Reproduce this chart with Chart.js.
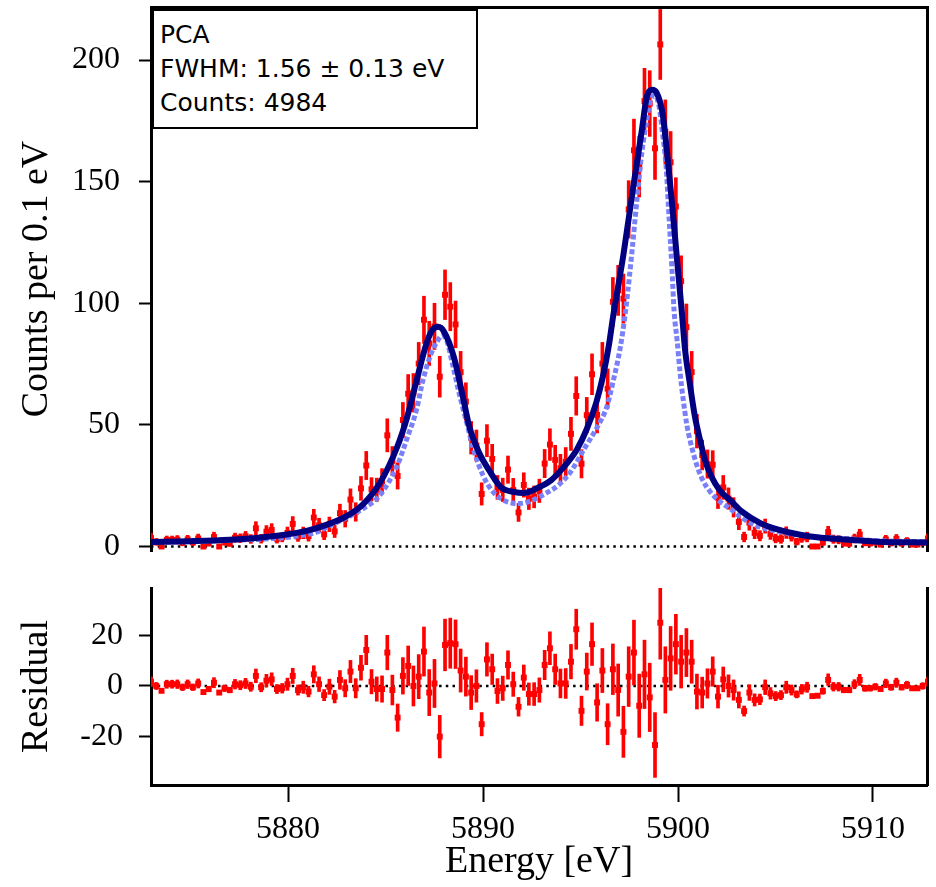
<!DOCTYPE html>
<html>
<head>
<meta charset="utf-8">
<title>Mn K-alpha spectrum, PCA</title>
<script src="https://cdn.jsdelivr.net/npm/chart.js@4.4.1/dist/chart.umd.min.js"></script>
<style>
  html, body { margin: 0; padding: 0; background: #fff; }
  #wrap { position: relative; width: 936px; height: 887px; overflow: hidden; }
  #specChart  { position: absolute; left: 0; top: 0; }
  #residChart { position: absolute; left: 0; top: 560px; }
  .fit-box {
    position: absolute; left: 152px; top: 9px;
    width: 316px; height: 109px;
    padding: 7px 0 0 6px;
    border: 2px solid #000; background: #fff;
    font-family: 'DejaVu Sans', Verdana, sans-serif;
    font-size: 25px; line-height: 34px; color: #000;
    white-space: nowrap;
  }
</style>
</head>
<body>
<div id="wrap">
  <canvas id="specChart" width="936" height="560"></canvas>
  <canvas id="residChart" width="936" height="327"></canvas>
  <div class="fit-box">
    <div>PCA</div>
    <div>FWHM: 1.56 ± 0.13 eV</div>
    <div>Counts: 4984</div>
  </div>
</div>

<script>
/* ================================================
   DATA
================================================ */
// bin centres, eV
const energy = [
  5872.97, 5873.24, 5873.51, 5873.78, 5874.05, 5874.32, 5874.59, 5874.85, 5875.12, 5875.39,
  5875.66, 5875.93, 5876.20, 5876.47, 5876.74, 5877.01, 5877.28, 5877.55, 5877.82, 5878.09,
  5878.35, 5878.62, 5878.89, 5879.16, 5879.43, 5879.70, 5879.97, 5880.24, 5880.51, 5880.78,
  5881.05, 5881.32, 5881.59, 5881.85, 5882.12, 5882.39, 5882.66, 5882.93, 5883.20, 5883.47,
  5883.74, 5884.01, 5884.28, 5884.55, 5884.82, 5885.09, 5885.35, 5885.62, 5885.89, 5886.16,
  5886.43, 5886.70, 5886.97, 5887.24, 5887.51, 5887.78, 5888.05, 5888.32, 5888.59, 5888.85,
  5889.12, 5889.39, 5889.66, 5889.93, 5890.20, 5890.47, 5890.74, 5891.01, 5891.28, 5891.55,
  5891.82, 5892.09, 5892.35, 5892.62, 5892.89, 5893.16, 5893.43, 5893.70, 5893.97, 5894.24,
  5894.51, 5894.78, 5895.05, 5895.32, 5895.59, 5895.85, 5896.12, 5896.39, 5896.66, 5896.93,
  5897.20, 5897.47, 5897.74, 5898.01, 5898.28, 5898.55, 5898.82, 5899.09, 5899.35, 5899.62,
  5899.89, 5900.16, 5900.43, 5900.70, 5900.97, 5901.24, 5901.51, 5901.78, 5902.05, 5902.32,
  5902.59, 5902.85, 5903.12, 5903.39, 5903.66, 5903.93, 5904.20, 5904.47, 5904.74, 5905.01,
  5905.28, 5905.55, 5905.82, 5906.09, 5906.35, 5906.62, 5906.89, 5907.16, 5907.43, 5907.70,
  5907.97, 5908.24, 5908.51, 5908.78, 5909.05, 5909.32, 5909.59, 5909.85, 5910.12, 5910.39,
  5910.66, 5910.93, 5911.20, 5911.47, 5911.74, 5912.01, 5912.28, 5912.55, 5912.82,
];

// counts per 0.1 eV in each bin
const counts = [
  3.5, 1.9, 0, 2.7, 2.7, 2.8, 1.6, 2.9, 1.7, 3.3,
  0, 1.3, 3.9, 0, 1.8, 1.2, 3.6, 3.4, 4.2, 3.1,
  7.5, 3.2, 6.1, 6.8, 3.2, 3.8, 5.6, 9.3, 4.1, 5.6,
  4.3, 11.9, 8.7, 5.0, 9.1, 6.2, 13.7, 11.4, 19.3, 14.2,
  23.9, 33.3, 23.5, 23.3, 26.8, 45.7, 35.2, 29.0, 52, 62.8,
  63.2, 75.2, 93.2, 83.5, 90.5, 69.8, 103.5, 98.6, 91.3, 71.7,
  59.6, 44.7, 41.5, 21.6, 43.5, 36, 24.3, 23.3, 31.6, 23.2,
  14, 25.3, 19.6, 20.4, 22.9, 34.1, 41.9, 35.6, 32.2, 34.8,
  46.3, 61.9, 34, 54, 70.8, 54.1, 75.2, 64.9, 100.6, 105.3,
  101.9, 138.6, 162.9, 156.2, 183.1, 182.1, 163.7, 206.4, 170.5, 158,
  139.8, 109.1, 90.2, 71.7, 47.4, 37.6, 33.9, 33.6, 20.1, 24.3,
  19.7, 16.1, 10.1, 3.9, 9.8, 5.6, 4.4, 8.4, 5.2, 3.3,
  3.1, 5.7, 4.2, 2.0, 3.6, 3.9, 0, 0, 1.7, 5.9,
  3.0, 2.8, 1.3, 1.15, 3.3, 4.9, 1.45, 1.3, 1.75, 0.8,
  2.9, 1.4, 3.15, 1.3, 2.2, 0.8, 0.8, 1.65, 3.3,
];

// one-sigma error on each bin
const countErr = [
  1.9, 1.4, 0, 1.6, 1.6, 1.7, 1.3, 1.7, 1.3, 1.8,
  0, 1.1, 2.0, 0, 1.3, 1.1, 1.9, 1.8, 2.0, 1.8,
  2.7, 1.8, 2.5, 2.6, 1.8, 1.9, 2.4, 3.0, 2.0, 2.4,
  2.1, 3.4, 2.9, 2.2, 3.0, 2.5, 3.7, 3.4, 4.4, 3.8,
  4.9, 5.8, 4.8, 4.8, 5.2, 6.8, 5.9, 5.4, 7.2, 7.9,
  7.9, 8.7, 9.7, 9.1, 9.5, 8.4, 10.2, 9.9, 9.6, 8.5,
  7.7, 6.7, 6.4, 4.6, 6.6, 6.0, 4.9, 4.8, 5.6, 4.8,
  3.7, 5.0, 4.4, 4.5, 4.8, 5.8, 6.5, 6.0, 5.7, 5.9,
  6.8, 7.9, 5.8, 7.3, 8.4, 7.4, 8.7, 8.1, 10.0, 10.3,
  10.1, 11.8, 12.8, 12.5, 13.5, 13.5, 12.8, 14.4, 13.1, 12.6,
  11.8, 10.4, 9.5, 8.5, 6.9, 6.1, 5.8, 5.8, 4.5, 4.9,
  4.4, 4.0, 3.2, 2.0, 3.1, 2.4, 2.1, 2.9, 2.3, 1.8,
  1.8, 2.4, 2.0, 1.4, 1.9, 2.0, 0, 0, 1.3, 2.4,
  1.7, 1.7, 1.1, 1.1, 1.8, 2.2, 1.2, 1.1, 1.3, 0.9,
  1.7, 1.2, 1.8, 1.1, 1.5, 0.9, 0.9, 1.3, 1.8,
];

// data minus PCA fit
const resid = [
  1.7, 0, -1.9, 0.7, 0.7, 0.7, -0.5, 0.7, -0.5, 1.0,
  -2.4, -1.2, 1.3, -2.6, -0.9, -1.6, 0.7, 0.3, 1.0, -0.3,
  4.0, -0.5, 2.1, 2.6, -1.2, -0.9, 0.7, 4.0, -1.6, -0.5,
  -2.2, 4.6, 0.7, -3.6, -0.3, -4.2, 2.4, -0.9, 5.7, -0.9,
  7.2, 14.2, 1.7, -1.2, -1.2, 13.2, -1.6, -12.5, 4.0, 7.9,
  0, 3.7, 13.6, -2.6, 1.0, -20, 16.2, 16.9, 16.5, 6.1,
  3.7, -2.6, 0, -15.1, 10.5, 6.6, -2, -0.9, 8.3, 0.7,
  -8.2, 3.3, -3.2, -3.2, -1.6, 8.3, 14.9, 6.6, 1.0, 1.0,
  9.6, 22.4, -9.8, 5.7, 16.5, -6.5, 6.1, -15.1, 6.6, -1.6,
  -18.1, 3.7, 13.2, -7.8, 4.6, -4.5, -23.3, 25, 2.4, 10.9,
  16.5, 9.6, 13.2, 9.6, -2.2, -2.6, 1.0, 5.7, -4.2, 2.6,
  0, -1.6, -5.5, -9.9, -2.6, -5.5, -5.3, -0.5, -2.9, -4.0,
  -3.6, -0.5, -1.6, -3.3, -1.3, -0.5, -4.0, -3.85, -2.0, 2.4,
  -0.3, -0.3, -1.6, -1.6, 0.7, 2.4, -0.9, -0.9, -0.3, -1.2,
  1.0, -0.5, 1.3, -0.5, 0.4, -0.9, -0.9, 0, 1.7,
];

// PCA fit curve (solid)
const fitE = [
  5872.97, 5875.0, 5877.0, 5878.5, 5880.0, 5881.0, 5882.0, 5883.0, 5883.8, 5884.7,
  5885.6, 5886.1, 5886.6, 5887.1, 5887.4, 5887.7, 5888.0, 5888.5, 5889.0, 5889.3,
  5889.8, 5890.4, 5890.9, 5891.6, 5892.1, 5892.8, 5893.5, 5894.1, 5894.8, 5895.3,
  5895.8, 5896.15, 5896.45, 5896.67, 5897.2, 5897.7, 5898.15, 5898.4, 5898.67, 5898.9,
  5899.2, 5899.44, 5899.69, 5899.95, 5900.2, 5900.36, 5900.6, 5900.87, 5901.13, 5901.38,
  5901.7, 5902.15, 5902.67, 5903.3, 5904.2, 5905.1, 5906.8, 5908.5, 5910.2, 5912.77,
];
const fitPCA = [
  1.8, 2.2, 2.8, 3.6, 5.0, 6.5, 9.0, 12.5, 17, 26,
  41, 53, 68.5, 83.5, 89, 90.3, 88.3, 78, 60.3, 49.2,
  38.5, 30.2, 24.5, 22.4, 22, 24.1, 27.3, 32.3, 39.7, 47.9,
  59, 70, 82.5, 94.5, 120, 147.6, 171.4, 185, 187.8, 186.6,
  178.4, 161.9, 141.3, 117.9, 96, 81, 67.3, 53.3, 43.8, 35.6,
  29, 23, 19.1, 14.2, 9.7, 7.0, 4.1, 2.9, 2.0, 1.6,
];

// reference line shape (dotted)
const shapeE = [
  5872.97, 5875.0, 5877.0, 5879.0, 5880.5, 5881.5, 5882.15, 5883.0, 5883.85, 5884.7,
  5885.6, 5886.1, 5886.6, 5886.9, 5887.3, 5887.65, 5887.9, 5888.15, 5888.45, 5888.8,
  5889.2, 5889.5, 5890.0, 5890.5, 5891.2, 5891.85, 5892.5, 5893.2, 5893.85, 5894.5,
  5895.2, 5895.85, 5896.35, 5896.67, 5897.03, 5897.28, 5897.4, 5897.64, 5897.9, 5898.15,
  5898.41, 5898.56, 5898.8, 5899.02, 5899.18, 5899.4, 5899.5, 5899.6, 5899.7, 5899.8,
  5899.95, 5900.1, 5900.26, 5900.46, 5900.72, 5900.97, 5901.23, 5901.64, 5902.15, 5902.67,
  5903.2, 5904.0, 5905.2, 5906.8, 5908.5, 5910.2, 5912.77,
];
const shapeVals = [
  1.8, 2.0, 2.5, 3.2, 4.3, 6.0, 8.6, 11.8, 15.6, 21.0,
  33.3, 44.4, 56.6, 67.8, 78.5, 84.3, 86.7, 84.3, 74.4, 62.1,
  49.7, 40.3, 29.2, 22.6, 18.5, 17.7, 18.9, 21.8, 25.1, 30.8,
  40.3, 49, 57.5, 67.8, 81.4, 94.9, 103, 121.3, 143.1, 162.3,
  175.9, 182.7, 185.5, 181.3, 171.6, 155, 141, 127, 112.4, 96.6,
  85, 71.9, 60.8, 49.7, 40.3, 33.3, 27.9, 22.6, 18.5, 15.6,
  12.3, 8.6, 6.1, 4.1, 3.3, 2.4, 2.0,
];

const countTicks  = [0, 50, 100, 150, 200];
const residTicks  = [-20, 0, 20];
const energyTicks = [5880, 5890, 5900, 5910];

const E_MIN = 5872.97;
const E_MAX = 5912.77;

/* ================================================
   HELPERS
================================================ */
const SERIF   = "'Liberation Serif', 'Times New Roman', serif";
const RED     = '#ff0000';
const NAVY    = '#000080';
const LILAC   = 'rgb(122,128,248)';
const LEFT_W  = 151;
const RIGHT_W = 9;

const xy      = (xs, ys) => xs.map((x, i) => ({ x, y: ys[i] }));
const errBars = (xs, ys, es) => xs.map((x, i) => ({ x, y: [ys[i] - es[i], ys[i] + es[i]] }));

// fixed axis size, and no extra room reserved for half tick labels
function pinSize(s, size) {
  if (s.isHorizontal()) s.height = size; else s.width = size;
  s.paddingTop = s.paddingBottom = s.paddingLeft = s.paddingRight = 0;
}

function zeroLine() {
  return {
    type: 'line',
    data: [{ x: E_MIN, y: 0 }, { x: E_MAX, y: 0 }],
    borderColor: '#000',
    borderWidth: 2.5,
    borderDash: [2.5, 4.2],
    pointRadius: 0,
    order: 6,
  };
}

function errorSet(values) {
  return {
    type: 'bar',
    data: errBars(energy, values, countErr),
    backgroundColor: RED,
    borderWidth: 0,
    barThickness: 3,
    grouped: false,
    order: 5,
  };
}

function pointSet(values) {
  return {
    type: 'line',
    data: xy(energy, values),
    showLine: false,
    pointStyle: 'rect',
    pointRadius: 4.2,
    pointBackgroundColor: RED,
    pointBorderWidth: 0,
    order: 4,
  };
}

function energyAxis(extra) {
  return {
    type: 'linear',
    min: E_MIN, max: E_MAX,
    offset: false,
    ...extra,
  };
}

function valueAxis(min, max, tickList, title, labelPad) {
  return {
    type: 'linear',
    position: 'left',
    min, max,
    afterFit: s => pinSize(s, LEFT_W),
    afterBuildTicks: s => { s.ticks = tickList.map(v => ({ value: v })); },
    grid: { drawOnChartArea: false, drawTicks: true, tickLength: 12, tickWidth: 2, tickColor: '#000' },
    border: { display: true, color: '#000', width: 3 },
    ticks: { color: '#000', padding: labelPad, font: { family: SERIF, size: 32 } },
    title: {
      display: true, text: title, color: '#000',
      padding: { top: 14, bottom: 0 },
      font: { family: SERIF, size: 38, weight: 'normal' },
    },
  };
}

// plain frame line (no ticks) on one side of the plot
function frameAxis(position, size) {
  return {
    type: 'linear',
    position,
    display: true,
    min: 0, max: 1,
    afterFit: s => pinSize(s, size),
    grid: { display: false, drawTicks: false },
    ticks: { display: false },
    border: { display: true, color: '#000', width: 3 },
  };
}

const baseOptions = {
  responsive: false,
  animation: false,
  events: [],
  plugins: { legend: { display: false }, tooltip: { enabled: false } },
};

/* ================================================
   SPECTRUM PANEL
================================================ */
new Chart(document.getElementById('specChart'), {
  type: 'line',
  data: {
    datasets: [
      zeroLine(),
      errorSet(counts),
      pointSet(counts),
      {
        type: 'line',
        data: xy(shapeE, shapeVals),
        borderColor: LILAC,
        borderWidth: 5,
        borderDash: [5, 2.5],
        pointRadius: 0,
        cubicInterpolationMode: 'monotone',
        order: 2,
      },
      {
        type: 'line',
        data: xy(fitE, fitPCA),
        borderColor: NAVY,
        borderWidth: 6,
        pointRadius: 0,
        cubicInterpolationMode: 'monotone',
        order: 1,
      },
    ],
  },
  options: {
    ...baseOptions,
    layout: { padding: { left: 0, right: 0, top: 0, bottom: 9 } },
    scales: {
      x: energyAxis({ display: false }),
      y: valueAxis(-1.85, 221.8, countTicks, 'Counts per 0.1 eV', 19),
      frameTop: frameAxis('top', 7),
      frameRight: frameAxis('right', RIGHT_W),
    },
  },
});

/* ================================================
   RESIDUAL PANEL
================================================ */
new Chart(document.getElementById('residChart'), {
  type: 'line',
  data: {
    datasets: [
      zeroLine(),
      errorSet(resid),
      pointSet(resid),
    ],
  },
  options: {
    ...baseOptions,
    layout: { padding: { left: 0, right: 0, top: 28, bottom: 0 } },
    scales: {
      x: energyAxis({
        position: 'bottom',
        afterFit: s => pinSize(s, 102),
        afterBuildTicks: s => { s.ticks = energyTicks.map(v => ({ value: v })); },
        grid: { offset: false, drawOnChartArea: false, drawTicks: true, tickLength: 17, tickWidth: 2, tickColor: '#000' },
        border: { display: true, color: '#000', width: 3 },
        ticks: { color: '#000', padding: 8, maxRotation: 0, font: { family: SERIF, size: 32 }, callback: v => String(v) },
        title: {
          display: true, text: 'Energy [eV]', color: '#000',
          padding: { top: 0, bottom: 2 },
          font: { family: SERIF, size: 38, weight: 'normal' },
        },
      }),
      y: valueAxis(-39.1, 38.7, residTicks, 'Residual', 16),
      frameRight: frameAxis('right', RIGHT_W),
    },
  },
});
</script>
</body>
</html>
